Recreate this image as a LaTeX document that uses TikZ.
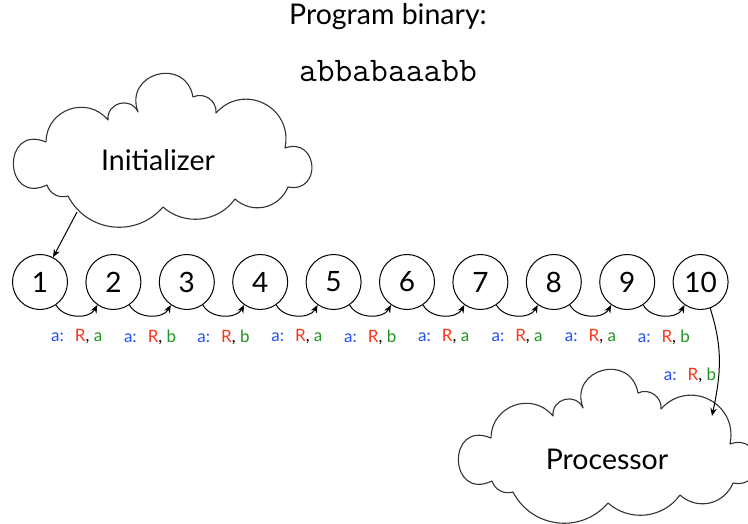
\documentclass[tikz,border=0pt]{standalone}
\usepackage{fontspec}
\setmainfont{Lato}
\usetikzlibrary{arrows.meta}
\definecolor{ablue}{RGB}{35,80,250}
\definecolor{ared}{RGB}{250,55,30}
\definecolor{agreen}{RGB}{30,150,30}
\tikzset{
  cloudline/.style={draw=black!80, fill=white, line width=1.1pt, line join=round},
  num/.style={circle, draw, line width=1pt, minimum size=55pt, inner sep=0pt, font=\fontsize{28}{30}\selectfont},
  conn/.style={line width=1pt, -{Stealth[length=8pt,width=6.5pt]}},
  lbl/.style={font=\fontsize{17}{19}\selectfont, inner sep=0pt},
  bigtxt/.style={font=\fontsize{28.5}{32}\selectfont, inner sep=0pt},
  cloudpic/.pic={
    \path[cloudline] (47,-185)
      to[bend left=114, looseness=2.87] (46,-142)
      to[bend left=70, looseness=1.27] (108,-120)
      to[bend left=80, looseness=1.45] (138,-112)
      to[bend left=95, looseness=1.87] (193,-97)
      to[bend left=60, looseness=1.13] (216,-113)
      to[bend left=75, looseness=1.38] (285,-148)
      to[bend left=105, looseness=2.3] (288,-187)
      to[bend left=55, looseness=1.1] (235,-199)
      to[bend left=48, looseness=1.02] (163,-207)
      to[bend left=56, looseness=1.1] (68,-196)
      to[bend left=45, looseness=1] (47,-185) -- cycle;
  }
}
\newcommand{\lab}[1]{\textcolor{ablue}{a:}\hspace{0.65em}\textcolor{ared}{R}, \textcolor{agreen}{#1}}
\begin{document}
\begin{tikzpicture}[x=1pt,y=1pt]
\useasboundingbox (0,0) rectangle (748,-524);
\clip (0,0) rectangle (748,-524);
\fill[white] (0,0) rectangle (748,-524);
% title
\node[font=\fontsize{28.5}{32}\selectfont, inner sep=0pt] (title) at (388,-17) {Program binary:};
\node[font=\ttfamily\fontsize{34.5}{38}\selectfont, inner sep=0pt] (bin) at (388,-71) {abbabaaabb};
% clouds
\pic at (0,0) {cloudpic};
\node[bigtxt] (init) at (158,-160) {Initializer};
\pic at (445,-296) {cloudpic};
\node[bigtxt] (proc) at (607,-459) {Processor};
% state circles
\foreach \i in {1,...,10}
  \node[num] (c\i) at ({40+73.4*(\i-1)},-282) {\i};
% transitions
\foreach \i/\j/\s in {1/2/a,2/3/b,3/4/b,4/5/a,5/6/b,6/7/a,7/8/a,8/9/a,9/10/b}{
  \draw[conn] (c\i.-55) to[bend right=62] (c\j.-125);
  \node[lbl] (l\i) at ({40+73.4*(\i-0.5)},-337) {\lab{\s}};
}
% initializer arrow
\coordinate (istart) at (77,-212);
\draw[conn] (istart) -- (c1);
% processor arrow
\coordinate (pend) at (712,-416);
\draw[conn] (c10.-70) to[out=-72, in=78] (pend);
\node[lbl] (l10) at (690,-375) {\lab{b}};
\end{tikzpicture}
\end{document}
